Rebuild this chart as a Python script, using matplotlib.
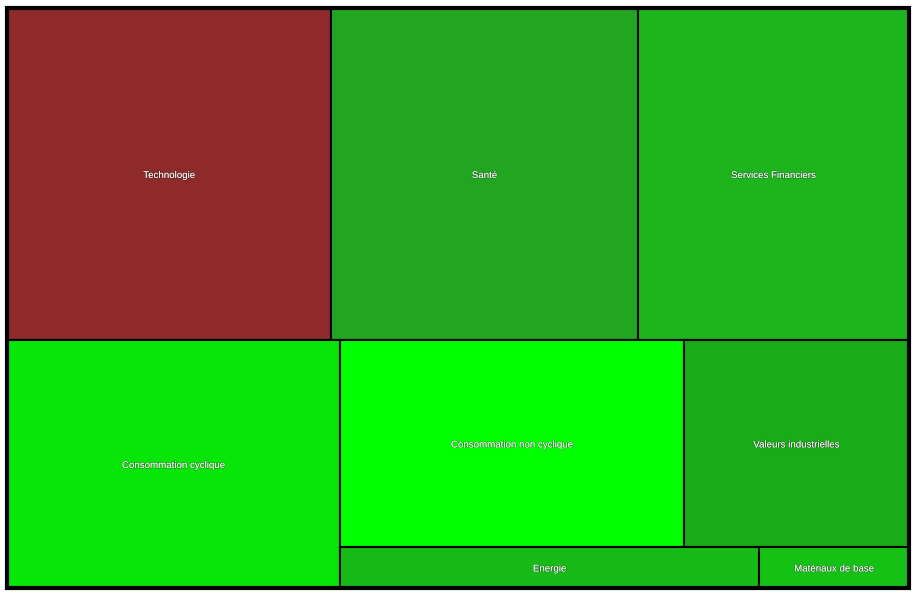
import numpy as np
import matplotlib.pyplot as plt
from matplotlib.patches import Rectangle
import matplotlib.patheffects as pe

plt.rcParams['font.family'] = ['Liberation Sans', 'DejaVu Sans']

sectors = ['Technologie', 'Santé', 'Services Financiers', 'Consommation cyclique',
           'Consommation non cyclique', 'Valeurs industrielles', 'Energie', 'Matériaux de base']
weights = [107.6, 101.9, 90.0, 82.6, 71.2, 46.6, 17.2, 6.15]
colors = ['#8E2A2A', '#22A520', '#1DB41D', '#08E508', '#00FF00', '#18AD18', '#18BA18', '#16C116']

# nested layout: ('v', ...) stacks top->bottom, ('h', ...) goes left->right, ints are sector index
layout = ('v', ('h', 0, 1, 2), ('h', 3, ('v', ('h', 4, 5), ('h', 6, 7))))

def total(node):
    if isinstance(node, int):
        return weights[node]
    return sum(total(c) for c in node[1:])

def place(node, x, y, w, h, out):
    if isinstance(node, int):
        out[node] = (x, y, w, h)
        return
    s = total(node)
    for c in node[1:]:
        f = total(c) / s
        if node[0] == 'h':
            place(c, x, y, w * f, h, out)
            x += w * f
        else:
            place(c, x, y, w, h * f, out)
            y += h * f

W, H = 902, 580
rects = {}
place(layout, 0, 0, W, H, rects)

fig = plt.figure(figsize=(9.15, 5.95), dpi=100)
ax = fig.add_axes([7 / 915, 7 / 595, W / 915, H / 595])
ax.set_xlim(0, W)
ax.set_ylim(H, 0)
ax.axis('off')

# faint dark outline so the white labels read like the original
shadow = [pe.withStroke(linewidth=0.8, foreground=(0, 0, 0, 0.35))]

for i, name in enumerate(sectors):
    x, y, w, h = rects[i]
    ax.add_patch(Rectangle((x, y), w, h, facecolor=colors[i], edgecolor='black', linewidth=1.5))
    ax.text(x + w / 2, y + h / 2 + 1, name, ha='center', va='center', color='white',
            fontsize=7, path_effects=shadow)

ax.add_patch(Rectangle((0, 0), W, H, facecolor='none', edgecolor='black', linewidth=3, clip_on=False))

fig.savefig('out.png', dpi=100)
